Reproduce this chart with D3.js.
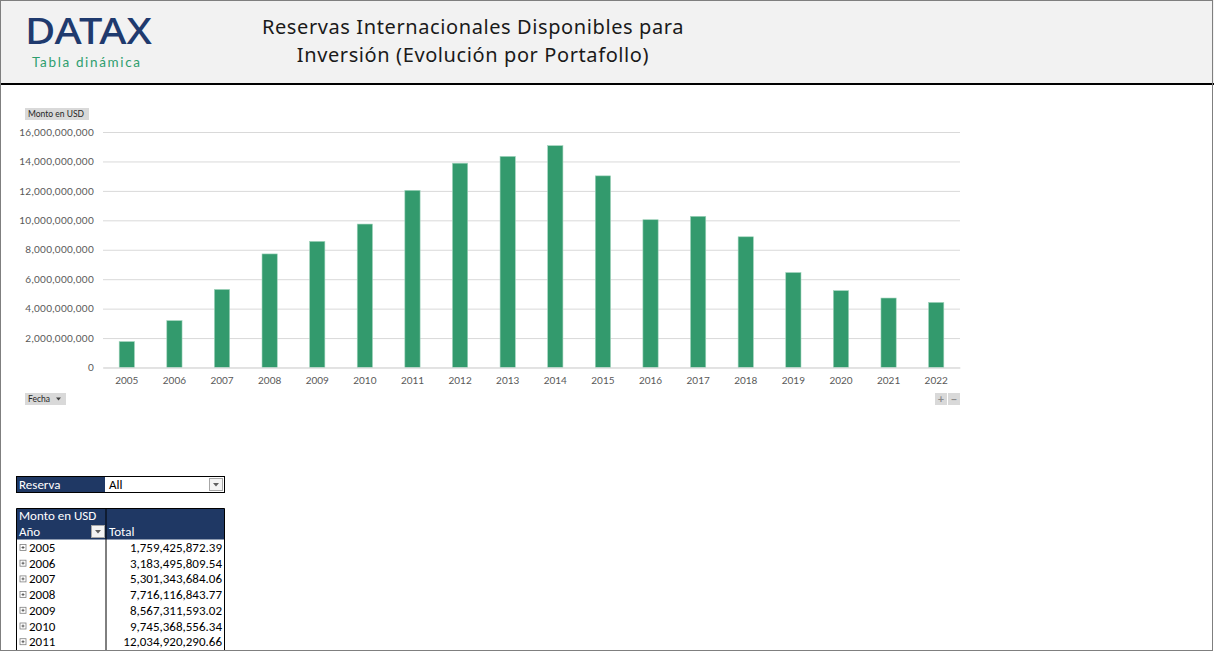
<!DOCTYPE html>
<html>
<head>
<meta charset="utf-8">
<script src="https://cdn.jsdelivr.net/npm/d3@7"></script>
<style>
  html, body { margin: 0; padding: 0; background: #fff; overflow: hidden; }
  svg { display: block; font-family: Lato, "DejaVu Sans", sans-serif; }
</style>
</head>
<body>
<div id="root"></div>
<script>
// Data (table rows 2005-2011 are exact, the rest estimated from bars)
const years = ["2005", "2006", "2007", "2008", "2009", "2010", "2011", "2012", "2013",
  "2014", "2015", "2016", "2017", "2018", "2019", "2020", "2021", "2022"];
const amounts = [1759425872.39, 3183495809.54, 5301343684.06, 7716116843.77, 8567311593.02,
  9745368556.34, 12034920290.66, 13880000000, 14340000000, 15070000000, 13020000000,
  10040000000, 10270000000, 8880000000, 6450000000, 5220000000, 4720000000, 4420000000];
const yTicks = [0, 2e9, 4e9, 6e9, 8e9, 10e9, 12e9, 14e9, 16e9];

const width = 1214;
const height = 651;

const navy = "#1f3864";
const barColor = "#339a6d";

const svg = d3.select("#root")
  .append("svg")
  .attr("width", width)
  .attr("height", height);

// Header band
svg.append("rect")
  .attr("x", 0).attr("y", 0)
  .attr("width", width).attr("height", 84)
  .attr("fill", "#f2f2f2");
svg.append("line")
  .attr("x1", 0).attr("x2", width)
  .attr("y1", 84).attr("y2", 84)
  .attr("stroke", "#000").attr("stroke-width", 2);

// Logo
svg.append("text")
  .attr("x", 25).attr("y", 44)
  .attr("font-family", "'Noto Sans', sans-serif")
  .attr("font-size", 36)
  .attr("font-weight", 500)
  .attr("fill", "#1f3a6e")
  .attr("textLength", 127)
  .attr("lengthAdjust", "spacingAndGlyphs")
  .text("DATAX");
svg.append("text")
  .attr("x", 32).attr("y", 67)
  .attr("font-size", 13.5)
  .attr("fill", "#2e9e6e")
  .attr("textLength", 108)
  .attr("lengthAdjust", "spacing")
  .text("Tabla dinámica");

// Title
const titleLines = ["Reservas Internacionales Disponibles para", "Inversión (Evolución por Portafollo)"];
svg.selectAll(".title")
  .data(titleLines)
  .join("text")
  .attr("class", "title")
  .attr("x", 473)
  .attr("y", (d, i) => 34 + i * 28)
  .attr("text-anchor", "middle")
  .attr("font-family", "'Noto Sans', sans-serif")
  .attr("font-size", 20)
  .attr("letter-spacing", 0.6)
  .attr("fill", "#1a1a1a")
  .text((d) => d);

// Chart
const plot = { left: 103, right: 960, top: 132, bottom: 367.5 };

const xScale = d3.scaleBand()
  .domain(years)
  .range([plot.left, plot.right])
  .paddingInner(0.68)
  .paddingOuter(0.34);

const yScale = d3.scaleLinear()
  .domain([0, 16e9])
  .range([plot.bottom, plot.top]);

const fmt = d3.format(",");

const yAxis = svg.append("g")
  .attr("transform", `translate(${plot.left},0)`)
  .call(d3.axisLeft(yScale)
    .tickValues(yTicks)
    .tickSize(-(plot.right - plot.left))
    .tickPadding(9)
    .tickFormat((d) => fmt(d)));
yAxis.select(".domain").remove();
yAxis.selectAll(".tick line").attr("stroke", "#d9d9d9");
yAxis.selectAll(".tick text")
  .attr("font-family", "Lato, sans-serif")
  .attr("font-size", 10)
  .attr("letter-spacing", 0.3)
  .attr("fill", "#595959");

svg.append("g")
  .selectAll("rect")
  .data(amounts)
  .join("rect")
  .attr("x", (d, i) => xScale(years[i]))
  .attr("y", (d) => yScale(d))
  .attr("width", xScale.bandwidth())
  .attr("height", (d) => plot.bottom - yScale(d))
  .attr("fill", barColor)
  .attr("stroke", "#9fd3bb")
  .attr("stroke-width", 0.6);

const xAxis = svg.append("g")
  .attr("transform", `translate(0,${plot.bottom})`)
  .call(d3.axisBottom(xScale).tickSize(0).tickPadding(9));
xAxis.select(".domain").attr("stroke", "#d9d9d9");
xAxis.selectAll(".tick text")
  .attr("font-family", "Lato, sans-serif")
  .attr("font-size", 10)
  .attr("fill", "#595959");

// Field buttons
const fieldButton = (x, y, w, label, arrow) => {
  const g = svg.append("g").attr("transform", `translate(${x},${y})`);
  g.append("rect").attr("width", w).attr("height", 12).attr("fill", "#d9d9d9");
  g.append("text")
    .attr("x", 3).attr("y", 9)
    .attr("font-size", 8.5)
    .attr("fill", "#262626")
    .text(label);
  if (arrow) {
    g.append("path")
      .attr("d", `M${w - 10},4.5 L${w - 5},4.5 L${w - 7.5},7.5 Z`)
      .attr("fill", "#404040");
  }
};
fieldButton(25, 108, 64, "Monto en USD", false);
fieldButton(25, 393, 41, "Fecha", true);

// zoom buttons
[["+", 935], ["−", 948]].forEach(([s, x]) => {
  svg.append("rect").attr("x", x).attr("y", 393).attr("width", 12).attr("height", 12).attr("fill", "#d9d9d9");
  svg.append("text").attr("x", x + 6).attr("y", 403).attr("text-anchor", "middle")
    .attr("font-size", 11).attr("font-weight", 700).attr("fill", "#8c8c8c").text(s);
});

// Filter box
const tableFont = "Carlito, 'Liberation Sans', sans-serif";
const tSize = 13;
svg.append("rect").attr("x", 16.5).attr("y", 476.5).attr("width", 208).attr("height", 16)
  .attr("fill", "#fff").attr("stroke", "#000");
svg.append("rect").attr("x", 17).attr("y", 477).attr("width", 88).attr("height", 15).attr("fill", navy);
svg.append("text").attr("x", 19).attr("y", 489).attr("font-family", tableFont)
  .attr("font-size", tSize).attr("fill", "#fff").text("Reserva");
svg.append("text").attr("x", 109).attr("y", 489).attr("font-family", tableFont)
  .attr("font-size", tSize).attr("fill", "#000").text("All");
svg.append("rect").attr("x", 209.5).attr("y", 478.5).attr("width", 13).attr("height", 12)
  .attr("fill", "#f4f4f4").attr("stroke", "#a6a6a6");
svg.append("path").attr("d", "M213,483 L219,483 L216,486.5 Z").attr("fill", "#606060");

// Pivot table
const tLeft = 16.5, tDiv = 106, tRight = 224.5, tTop = 508.5, rowH = 15.7;
svg.append("rect").attr("x", tLeft).attr("y", tTop).attr("width", tRight - tLeft).attr("height", 31)
  .attr("fill", navy);
svg.append("text").attr("x", 19).attr("y", 520).attr("font-family", tableFont)
  .attr("font-size", tSize).attr("fill", "#fff").text("Monto en USD");
svg.append("text").attr("x", 19).attr("y", 535.5).attr("font-family", tableFont)
  .attr("font-size", tSize).attr("fill", "#fff").text("Año");
svg.append("text").attr("x", 109).attr("y", 535.5).attr("font-family", tableFont)
  .attr("font-size", tSize).attr("fill", "#fff").text("Total");
svg.append("rect").attr("x", 91.5).attr("y", 525.5).attr("width", 13).attr("height", 12)
  .attr("fill", "#f4f4f4").attr("stroke", "#a6a6a6");
svg.append("path").attr("d", "M95,530 L101,530 L98,533.5 Z").attr("fill", "#606060");

// only the rows that fit in the window are shown
const bodyTop = tTop + 31;
const visibleRows = amounts.filter((d, i) => bodyTop + (i + 1) * rowH <= height);
const rows = svg.append("g")
  .selectAll("g")
  .data(visibleRows)
  .join("g")
  .attr("transform", (d, i) => `translate(0,${bodyTop + i * rowH})`);
rows.append("rect")
  .attr("x", 20).attr("y", 5).attr("width", 6).attr("height", 6)
  .attr("fill", "#fff").attr("stroke", "#7f7f7f").attr("stroke-width", 0.8);
rows.append("path")
  .attr("d", "M21.5,8 L24.5,8 M23,6.5 L23,9.5")
  .attr("stroke", "#404040").attr("stroke-width", 0.8);
rows.append("text")
  .attr("x", 29).attr("y", 12.5)
  .attr("font-family", tableFont).attr("font-size", tSize).attr("fill", "#000")
  .text((d, i) => years[i]);
rows.append("text")
  .attr("x", 222).attr("y", 12.5)
  .attr("text-anchor", "end")
  .attr("font-family", tableFont).attr("font-size", tSize).attr("fill", "#000")
  .text((d) => d3.format(",.2f")(d));

// table borders
svg.append("path")
  .attr("d", `M${tLeft},${tTop} V${height} M${tRight},${tTop} V${height} M${tDiv},${tTop} V${height} M${tLeft},${tTop} H${tRight}`)
  .attr("stroke", "#000").attr("fill", "none");

// outer frame
svg.append("rect").attr("x", 0.5).attr("y", 0.5).attr("width", width - 2).attr("height", height - 1)
  .attr("fill", "none").attr("stroke", "#7f7f7f");
</script>
</body>
</html>
